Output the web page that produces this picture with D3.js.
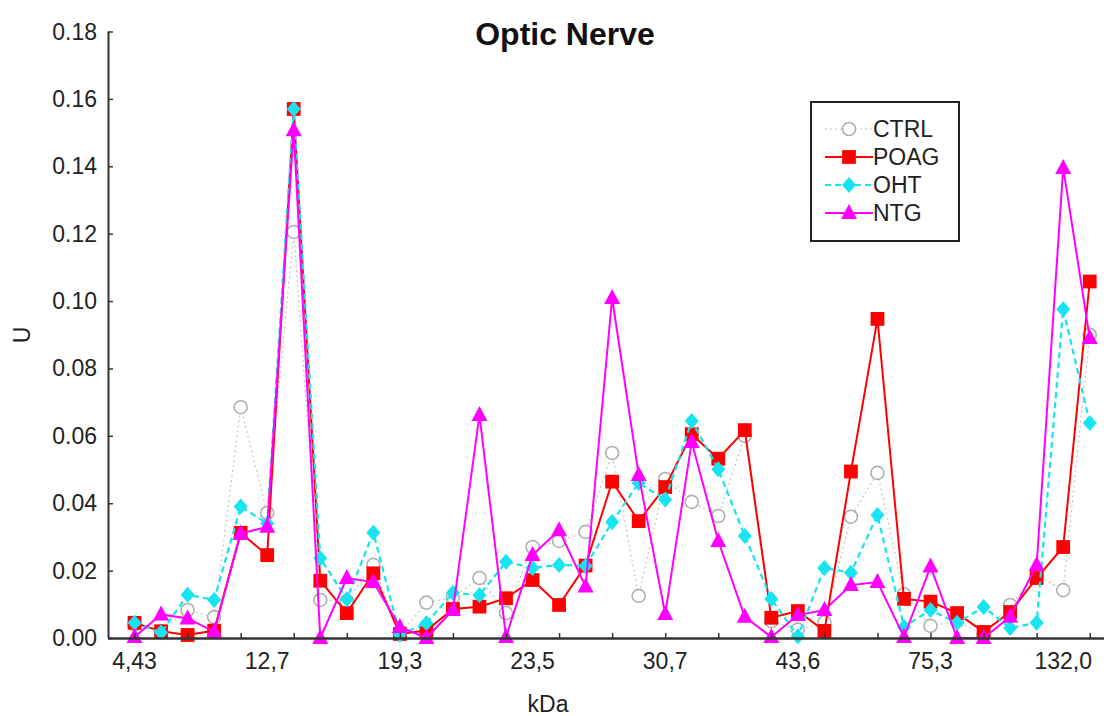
<!DOCTYPE html>
<html>
<head>
<meta charset="utf-8">
<script src="https://cdn.jsdelivr.net/npm/d3@7"></script>
<style>
  body { margin: 0; background: #fff; }
  text { font-family: "Liberation Sans", Arial, sans-serif; }
</style>
</head>
<body>
<script>
// values, 37 bands along kDa
const xLabels = ["4,43", "12,7", "19,3", "23,5", "30,7", "43,6", "75,3", "132,0"]
const labelEvery = 5

const ctrl = [0.004, 0.002, 0.0083, 0.0062, 0.0685, 0.0371, 0.1205, 0.0113, 0.011, 0.0217,
  0.001, 0.0105, 0.012, 0.0178, 0.0074, 0.027, 0.0288, 0.0315, 0.0549, 0.0125,
  0.0472, 0.0404, 0.0362, 0.060, 0.005, 0.0025, 0.0047, 0.036, 0.049, 0.013,
  0.0036, 0.005, 0.001, 0.0098, 0.0187, 0.0142, 0.09]
const poag = [0.0045, 0.002, 0.0009, 0.0022, 0.0312, 0.0246, 0.157, 0.017, 0.0074, 0.0192,
  0.0012, 0.0022, 0.0086, 0.0093, 0.0118, 0.0172, 0.0098, 0.0215, 0.0464, 0.0347,
  0.0448, 0.0605, 0.0532, 0.0617, 0.006, 0.008, 0.0021, 0.0494, 0.0947, 0.0116,
  0.0108, 0.0074, 0.0018, 0.0077, 0.0178, 0.027, 0.1058]
const oht = [0.0045, 0.0016, 0.0128, 0.0113, 0.039, 0.034, 0.157, 0.0237, 0.0115, 0.0312,
  0.001, 0.0044, 0.0134, 0.0127, 0.0226, 0.0208, 0.0217, 0.0214, 0.0344, 0.046,
  0.0411, 0.0644, 0.0501, 0.0303, 0.0116, 0.0005, 0.0208, 0.0194, 0.0365, 0.0033,
  0.0083, 0.0045, 0.0092, 0.003, 0.0045, 0.0976, 0.0638]
const ntg = [0.0003, 0.007, 0.0058, 0.0019, 0.031, 0.033, 0.1507, 0, 0.0178, 0.0166,
  0.0033, 0, 0.0083, 0.0662, 0.0003, 0.0246, 0.032, 0.0153, 0.1009, 0.0484,
  0.0071, 0.0582, 0.0288, 0.0063, 0.0003, 0.0068, 0.0083, 0.0157, 0.0166, 0.0003,
  0.0212, 0, 0, 0.0063, 0.0217, 0.1395, 0.089]
const yTicks = [0, 0.02, 0.04, 0.06, 0.08, 0.10, 0.12, 0.14, 0.16, 0.18]

const width = 1104
const height = 716
const fs = 23

const series = [
  {name: "CTRL", values: ctrl, color: "#c4c4c4", width: 1.2, dash: "2,3", shape: "circle"},
  {name: "POAG", values: poag, color: "#ff0000", width: 2, dash: null, shape: "square"},
  {name: "OHT", values: oht, color: "#16e4f0", width: 2.2, dash: "6,4", shape: "diamond"},
  {name: "NTG", values: ntg, color: "#ff00ff", width: 2, dash: null, shape: "triangle"}
]

const x = d3.scaleLinear().domain([-1, 36.5]).range([108, 1103])
const y = d3.scaleLinear().domain([0, 0.18]).range([638, 31.5])

const svg = d3.select("body").append("svg")
  .attr("width", width)
  .attr("height", height)

function marker(sel, s) {
  if (s.shape == "circle") {
    sel.append("circle").attr("r", 6.5)
      .attr("fill", "#fff").attr("stroke", "#b0b0b0").attr("stroke-width", 1.6)
  } else if (s.shape == "square") {
    sel.append("path").attr("d", d3.symbol(d3.symbolSquare, 190)())
      .attr("fill", s.color)
  } else if (s.shape == "diamond") {
    sel.append("path").attr("d", "M0,-8L7,0L0,8L-7,0Z")
      .attr("fill", s.color)
  } else {
    sel.append("path").attr("d", "M0,-9L8,6L-8,6Z")
      .attr("fill", s.color)
  }
}

const line = d3.line().x((d, i) => x(i)).y(d => y(d))

series.forEach(s => {
  const g = svg.append("g").attr("class", "series")
  g.append("path")
    .datum(s.values)
    .attr("d", line)
    .attr("fill", "none")
    .attr("stroke", s.color)
    .attr("stroke-width", s.width)
    .attr("stroke-dasharray", s.dash)
  g.selectAll("g.pt")
    .data(s.values)
    .enter()
    .append("g")
    .attr("class", "pt")
    .attr("transform", (d, i) => "translate(" + x(i) + "," + y(d) + ")")
    .each(function() { marker(d3.select(this), s) })
})

// axes
const yAxis = d3.axisRight(y).tickValues(yTicks).tickSize(5).tickFormat("")
svg.append("g")
  .attr("id", "y-axis")
  .attr("transform", "translate(108,0)")
  .call(yAxis)
  .call(g => g.select(".domain").attr("stroke", "#333").attr("stroke-width", 2).attr("d", "M0.5,31.5V638"))
  .call(g => g.selectAll(".tick line").attr("stroke", "#333").attr("stroke-width", 1.5))

svg.append("g").selectAll("text")
  .data(yTicks)
  .enter()
  .append("text")
  .attr("x", 97)
  .attr("y", d => y(d) + 8)
  .attr("text-anchor", "end")
  .attr("font-size", fs)
  .attr("fill", "#222")
  .text(d3.format(".2f"))

const xTickIdx = d3.range(0, 37, 2)
const xAxis = d3.axisTop(x).tickValues(xTickIdx).tickSize(5).tickFormat("")
svg.append("g")
  .attr("id", "x-axis")
  .attr("transform", "translate(0,638)")
  .call(xAxis)
  .call(g => g.select(".domain").attr("stroke", "#333").attr("stroke-width", 2.5).attr("d", "M108,0.5H1104"))
  .call(g => g.selectAll(".tick line").attr("stroke", "#333").attr("stroke-width", 1.5))

svg.append("g").selectAll("text")
  .data(xLabels)
  .enter()
  .append("text")
  .attr("x", (d, i) => x(i * labelEvery))
  .attr("y", 669)
  .attr("text-anchor", "middle")
  .attr("font-size", fs)
  .attr("fill", "#222")
  .text(d => d)

svg.append("text")
  .attr("x", 548).attr("y", 712)
  .attr("text-anchor", "middle")
  .attr("font-size", fs).attr("fill", "#222")
  .text("kDa")

svg.append("text")
  .attr("transform", "translate(30,335) rotate(-90)")
  .attr("text-anchor", "middle")
  .attr("font-size", fs).attr("fill", "#222")
  .text("U")

svg.append("text")
  .attr("x", 565).attr("y", 45)
  .attr("text-anchor", "middle")
  .attr("font-size", 32).attr("font-weight", "bold").attr("fill", "#111")
  .text("Optic Nerve")

// legend
const legend = svg.append("g").attr("transform", "translate(811,102)")
legend.append("rect")
  .attr("width", 148).attr("height", 139)
  .attr("fill", "#fff").attr("stroke", "#222").attr("stroke-width", 2)

series.forEach((s, i) => {
  const row = legend.append("g").attr("transform", "translate(0," + (27 + i * 28) + ")")
  row.append("line")
    .attr("x1", 14).attr("x2", 62)
    .attr("stroke", s.color).attr("stroke-width", s.width)
    .attr("stroke-dasharray", s.dash)
  const m = row.append("g").attr("transform", "translate(38,0)")
  marker(m, s)
  row.append("text")
    .attr("x", 62).attr("y", 8)
    .attr("font-size", fs).attr("fill", "#222")
    .text(s.name)
})
</script>
</body>
</html>
